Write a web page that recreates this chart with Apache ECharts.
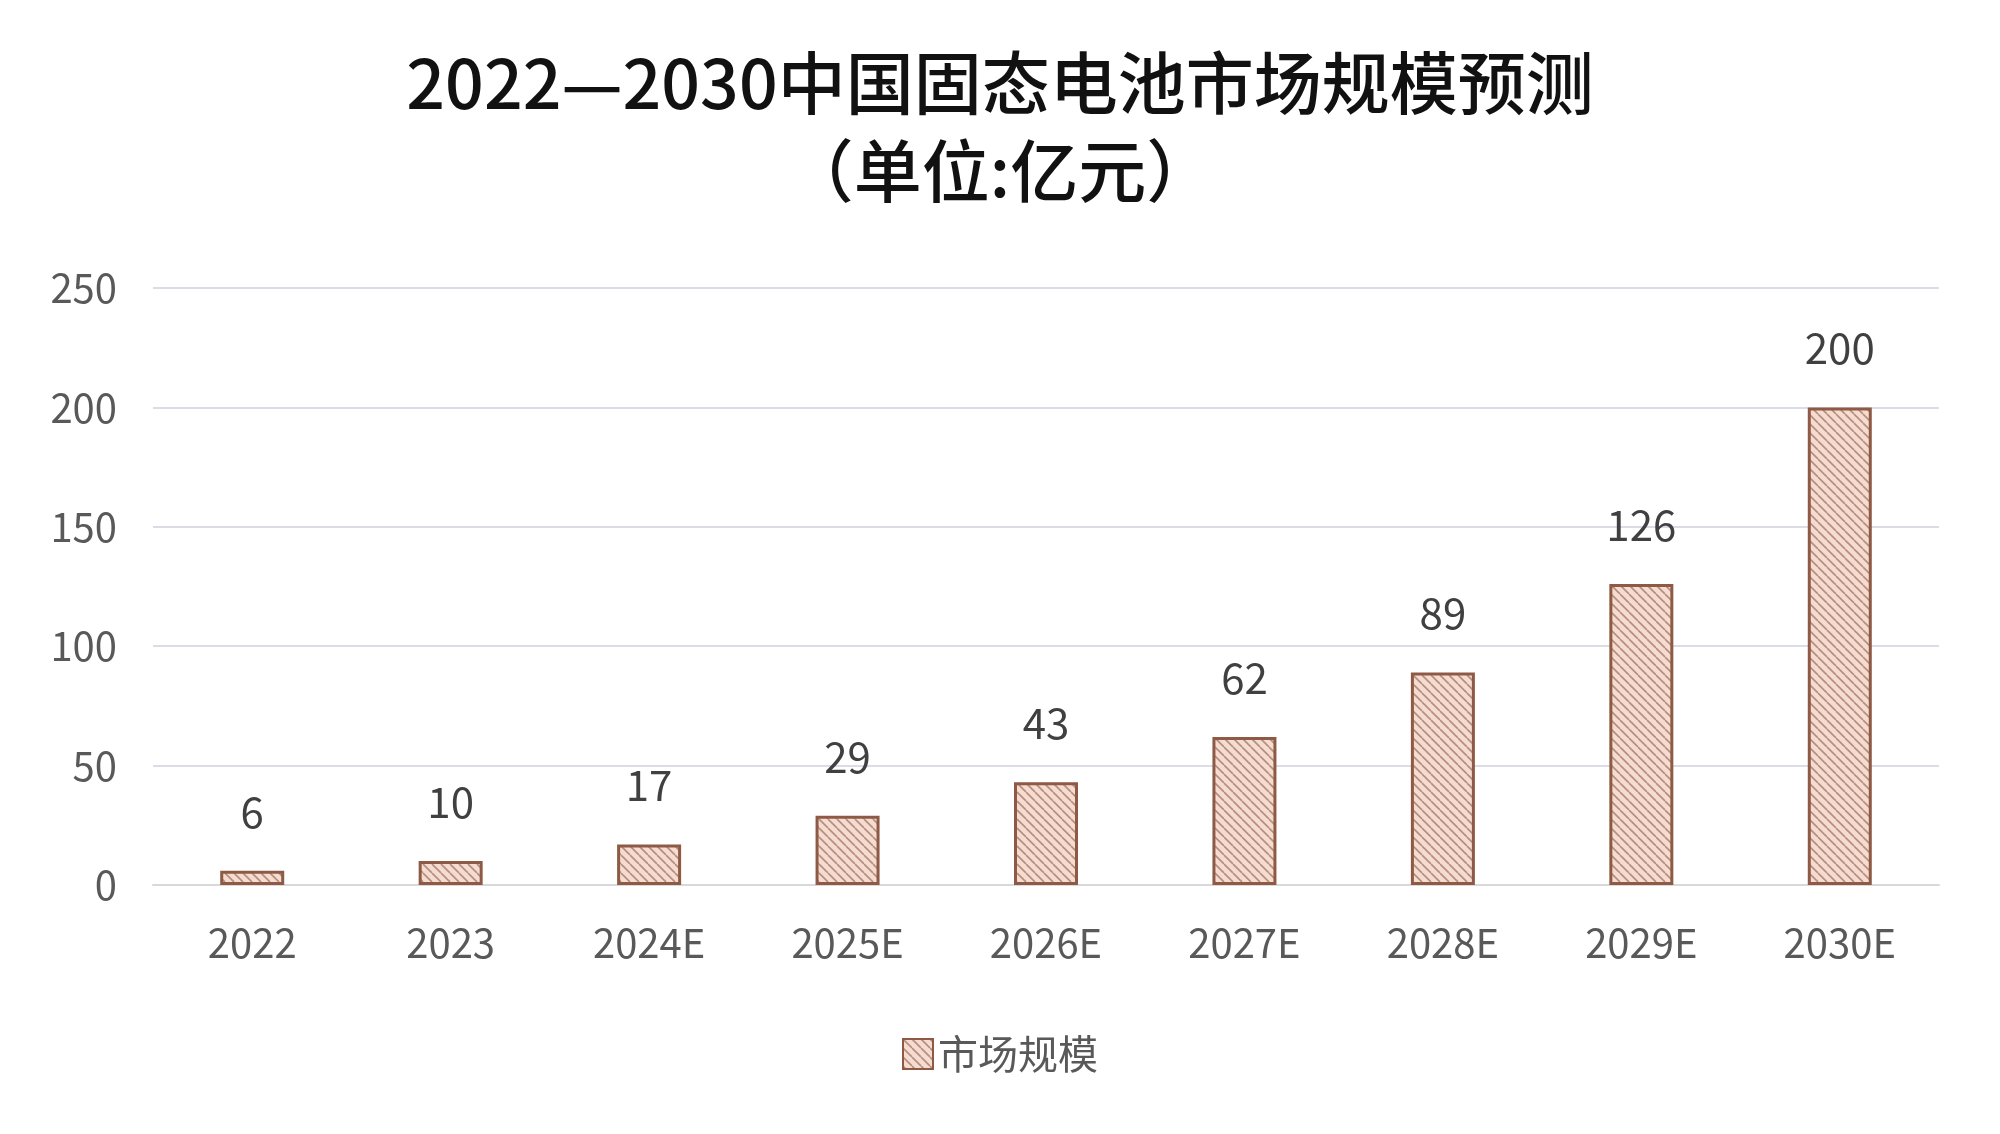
<!DOCTYPE html>
<html>
<head>
<meta charset="utf-8">
<script src="https://cdn.jsdelivr.net/npm/echarts@6/dist/echarts.min.js"></script>
<style>
  html, body { margin: 0; background: #fff; }
  #main { width: 2000px; height: 1134px; }
</style>
</head>
<body>
<div id="main"></div>
<script>
var years = ['2022', '2023', '2024E', '2025E', '2026E', '2027E', '2028E', '2029E', '2030E'];
var marketSize = [6, 10, 17, 29, 43, 62, 89, 126, 200];
var yTicks = [0, 50, 100, 150, 200, 250];

// hatch tile: light pink with brown "\" stripes
var tile = document.createElement('canvas');
tile.width = 9; tile.height = 9;
var ctx = tile.getContext('2d');
ctx.fillStyle = '#f4dcd0';
ctx.fillRect(0, 0, 9, 9);
ctx.strokeStyle = '#b88c7c';
ctx.lineWidth = 1.6;
[[-9, 0], [0, 0], [9, 0]].forEach(function (o) {
    ctx.beginPath();
    ctx.moveTo(o[0], 0);
    ctx.lineTo(o[0] + 9, 9);
    ctx.stroke();
});

var font = '"Noto Sans CJK SC", "Noto Sans", sans-serif';
var chart = echarts.init(document.getElementById('main'));
chart.setOption({
    backgroundColor: '#fff',
    title: {
        text: '2022—2030中国固态电池市场规模预测\n（单位:亿元）',
        left: 'center',
        top: 34,
        textStyle: { fontSize: 68, fontWeight: 500, color: '#111', fontFamily: font, lineHeight: 88 }
    },
    legend: {
        bottom: 55,
        left: 'center',
        icon: 'rect',
        itemWidth: 30,
        itemHeight: 30,
        itemGap: 12,
        textStyle: { fontSize: 40, color: '#595959', fontFamily: font },
        data: ['市场规模']
    },
    grid: { left: 153, right: 61, top: 288, bottom: 249, containLabel: false },
    xAxis: {
        type: 'category',
        data: years,
        axisTick: { show: false },
        axisLine: { lineStyle: { color: '#d9d9d9', width: 2 } },
        axisLabel: { fontSize: 40, color: '#595959', fontFamily: font, margin: 38 }
    },
    yAxis: {
        type: 'value',
        min: yTicks[0],
        max: yTicks[yTicks.length - 1],
        interval: 50,
        axisLabel: { fontSize: 40, color: '#595959', fontFamily: font, margin: 36 },
        splitLine: { lineStyle: { color: '#dcdce6', width: 2 } }
    },
    series: [{
        name: '市场规模',
        type: 'bar',
        data: marketSize,
        barWidth: 64,
        itemStyle: {
            color: { image: tile, repeat: 'repeat' },
            borderColor: '#8e5a45',
            borderWidth: 3
        },
        label: {
            show: true,
            position: 'top',
            distance: 38,
            fontSize: 42,
            color: '#404040',
            fontFamily: font
        }
    }]
});
</script>
</body>
</html>
